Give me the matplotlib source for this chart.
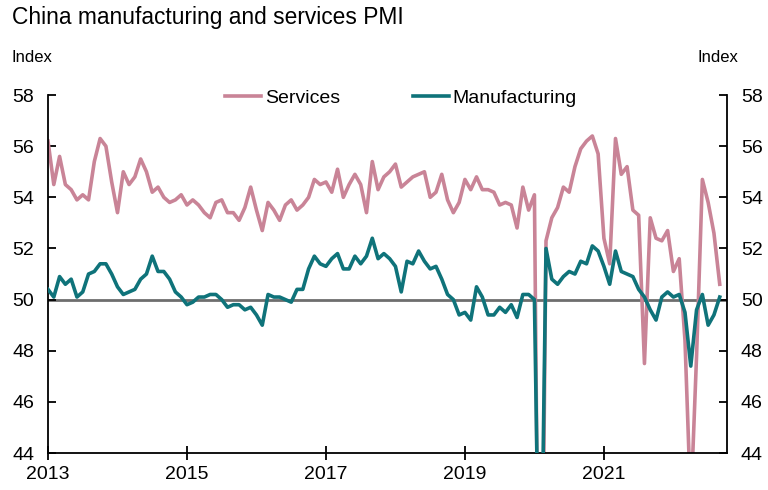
import numpy as np
import matplotlib.pyplot as plt

# monthly readings, Jan 2013 - Sep 2022
services = [
    56.2, 54.5, 55.6, 54.5, 54.3, 53.9, 54.1, 53.9, 55.4, 56.3, 56.0, 54.6,
    53.4, 55.0, 54.5, 54.8, 55.5, 55.0, 54.2, 54.4, 54.0, 53.8, 53.9, 54.1,
    53.7, 53.9, 53.7, 53.4, 53.2, 53.8, 53.9, 53.4, 53.4, 53.1, 53.6, 54.4,
    53.5, 52.7, 53.8, 53.5, 53.1, 53.7, 53.9, 53.5, 53.7, 54.0, 54.7, 54.5,
    54.6, 54.2, 55.1, 54.0, 54.5, 54.9, 54.5, 53.4, 55.4, 54.3, 54.8, 55.0,
    55.3, 54.4, 54.6, 54.8, 54.9, 55.0, 54.0, 54.2, 54.9, 53.9, 53.4, 53.8,
    54.7, 54.3, 54.8, 54.3, 54.3, 54.2, 53.7, 53.8, 53.7, 52.8, 54.4, 53.5,
    54.1, 29.6, 52.3, 53.2, 53.6, 54.4, 54.2, 55.2, 55.9, 56.2, 56.4, 55.7,
    52.4, 51.4, 56.3, 54.9, 55.2, 53.5, 53.3, 47.5, 53.2, 52.4, 52.3, 52.7,
    51.1, 51.6, 48.4, 41.9, 47.8, 54.7, 53.8, 52.6, 50.6,
]
manufacturing = [
    50.4, 50.1, 50.9, 50.6, 50.8, 50.1, 50.3, 51.0, 51.1, 51.4, 51.4, 51.0,
    50.5, 50.2, 50.3, 50.4, 50.8, 51.0, 51.7, 51.1, 51.1, 50.8, 50.3, 50.1,
    49.8, 49.9, 50.1, 50.1, 50.2, 50.2, 50.0, 49.7, 49.8, 49.8, 49.6, 49.7,
    49.4, 49.0, 50.2, 50.1, 50.1, 50.0, 49.9, 50.4, 50.4, 51.2, 51.7, 51.4,
    51.3, 51.6, 51.8, 51.2, 51.2, 51.7, 51.4, 51.7, 52.4, 51.6, 51.8, 51.6,
    51.3, 50.3, 51.5, 51.4, 51.9, 51.5, 51.2, 51.3, 50.8, 50.2, 50.0, 49.4,
    49.5, 49.2, 50.5, 50.1, 49.4, 49.4, 49.7, 49.5, 49.8, 49.3, 50.2, 50.2,
    50.0, 35.7, 52.0, 50.8, 50.6, 50.9, 51.1, 51.0, 51.5, 51.4, 52.1, 51.9,
    51.3, 50.6, 51.9, 51.1, 51.0, 50.9, 50.4, 50.1, 49.6, 49.2, 50.1, 50.3,
    50.1, 50.2, 49.5, 47.4, 49.6, 50.2, 49.0, 49.4, 50.1,
]
year_ticks = [2013, 2015, 2017, 2019, 2021]
y_ticks = [44, 46, 48, 50, 52, 54, 56, 58]

t = 2013 + np.arange(len(services)) / 12

plt.rcParams['font.family'] = ['Liberation Sans', 'DejaVu Sans']

fig = plt.figure(figsize=(7.68, 4.9), dpi=100)
ax = fig.add_axes([0.0625, 0.0755, 0.884, 0.7305])

ax.axhline(50, color='#6e6e6e', lw=2, zorder=1)
ax.plot(t, services, color='#c98497', lw=2.6, label='Services', zorder=2)
ax.plot(t, manufacturing, color='#0f737a', lw=2.6, label='Manufacturing', zorder=3)

ax.set_xlim(2013, 2022.77)
ax.set_ylim(44, 58)
ax.set_xticks(year_ticks)
ax.set_yticks(y_ticks)
ax.spines['top'].set_visible(False)
for s in ['left', 'right', 'bottom']:
    ax.spines[s].set_linewidth(1.3)
ax.tick_params(axis='y', direction='in', length=6, width=1.3, labelsize=14,
               left=True, right=True, labelleft=True, labelright=True, pad=10)
ax.tick_params(axis='x', direction='inout', length=10, width=1.3, labelsize=14, pad=4)

ax.legend(loc='upper center', bbox_to_anchor=(0.52, 1.065), ncol=2, frameon=False,
          fontsize=14, handlelength=1.85, handletextpad=0.2, columnspacing=3.75)

fig.text(0.015, 0.965, 'China manufacturing and services PMI', fontsize=16.4, va='center')
fig.text(0.015, 0.883, 'Index', fontsize=12, va='center')
fig.text(0.962, 0.883, 'Index', fontsize=12, va='center', ha='right')

fig.savefig('out.png', dpi=100)
